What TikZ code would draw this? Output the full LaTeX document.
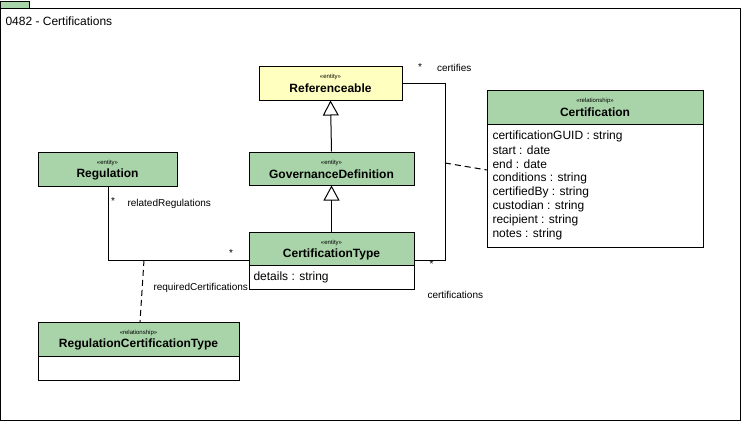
\documentclass[tikz,border=0pt]{standalone}
\usepackage{fontspec}
\setmainfont{Liberation Sans}
\usetikzlibrary{arrows.meta,fit}
\definecolor{umlgreen}{RGB}{169,212,169}
\definecolor{umlyellow}{RGB}{255,255,192}
\begin{document}
\begin{tikzpicture}[x=0.75pt,y=-0.75pt,line width=0.75pt,
  hdr/.style={draw=black,fill=umlgreen,inner sep=0pt},
  yhdr/.style={draw=black,fill=umlyellow,inner sep=0pt},
  body/.style={draw=black,fill=white,inner sep=0pt},
  stereo/.style={font=\fontsize{4.5}{5}\selectfont,inner sep=0pt},
  cname/.style={font=\bfseries\fontsize{9}{10}\selectfont,inner sep=0pt},
  attr/.style={font=\fontsize{9}{10}\selectfont,anchor=west,inner sep=0pt},
  lbl/.style={font=\fontsize{7.5}{8}\selectfont,anchor=west,inner sep=0pt},
  gen/.style={-{Triangle[open,length=11.25pt,width=12pt]}},
  assoc/.style={draw=black},
  dashline/.style={dash pattern=on 4.5pt off 3pt}]
\useasboundingbox (0,0) rectangle (741,421);
% frame
\node[draw=black,fill=umlgreen,inner sep=0pt,fit={(0,1) (29,8)}] (tab) {};
\node[draw=black,fill=white,inner sep=0pt,fit={(0,8) (740,420)}] (frame) {};
\node[attr] (title) at (5,21) {0482 - Certifications};

% Referenceable
\node[yhdr,fit={(259,66) (402,100)}] (ref) {};
\node[stereo] (refS) at (330.5,76.7) {«entity»};
\node[cname] (refN) at (330.5,88.7) {Referenceable};

% GovernanceDefinition
\node[hdr,fit={(249,152) (414,185)}] (gov) {};
\node[stereo] (govS) at (331.5,162.7) {«entity»};
\node[cname] (govN) at (331.5,174.2) {GovernanceDefinition};

% CertificationType
\node[body,fit={(249,265) (414,289)}] (ctB) {};
\node[hdr,fit={(249,232) (414,265)}] (ct) {};
\node[stereo] (ctS) at (331.5,242.7) {«entity»};
\node[cname] (ctN) at (331.5,254.2) {CertificationType};
\node[attr] (ctA) at (253,277.5) {details : string};

% Regulation
\node[hdr,fit={(38,152) (177,186)}] (reg) {};
\node[stereo] (regS) at (107.5,162.7) {«entity»};
\node[cname] (regN) at (107.5,174.5) {Regulation};

% RegulationCertificationType
\node[body,fit={(38,356) (239,380)}] (rctB) {};
\node[hdr,fit={(38,322) (239,356)}] (rct) {};
\node[stereo] (rctS) at (138.5,332.7) {«relationship»};
\node[cname] (rctN) at (138.5,344.5) {RegulationCertificationType};

% Certification
\node[body,fit={(487,124) (703,247)}] (certB) {};
\node[hdr,fit={(487,90) (703,124)}] (cert) {};
\node[stereo] (certS) at (595,100.7) {«relationship»};
\node[cname] (certN) at (595,112.7) {Certification};
\node[attr] (a1) at (492,136.7) {certificationGUID : string};
\node[attr] (a2) at (492,150.7) {start : date};
\node[attr] (a3) at (492,164.7) {end : date};
\node[attr] (a4) at (492,178.7) {conditions : string};
\node[attr] (a5) at (492,192.7) {certifiedBy : string};
\node[attr] (a6) at (492,206.7) {custodian : string};
\node[attr] (a7) at (492,220.7) {recipient : string};
\node[attr] (a8) at (492,234.7) {notes : string};

% generalizations
\draw[gen] (gov.north) -- (ref.south);
\draw[gen] (ct.north) -- (gov.south);

% certifies association
\coordinate (k1) at (445,83);
\coordinate (k2) at (445,260);
\coordinate (ctR) at (414,260);
\draw[assoc] (ref.east) -- (k1) -- (k2) -- (ctR);
\coordinate (kd) at (445,163);
\coordinate (certL) at (487,170);
\draw[dashline] (kd) -- (certL);
\node[lbl] (m1) at (417.5,67) {*};
\node[lbl] (l1) at (436.5,67.5) {certifies};
\node[lbl] (m2) at (429,264) {*};
\node[lbl] (l2) at (427,294.5) {certifications};

% regulation association
\coordinate (r1) at (108,260);
\coordinate (ctL) at (249,260);
\draw[assoc] (reg.south -| r1) -- (r1) -- (ctL);
\coordinate (rd) at (144,260);
\coordinate (rctT) at (140,322);
\draw[dashline] (rd) -- (rctT);
\node[lbl] (m3) at (110.5,201.5) {*};
\node[lbl] (l3) at (127,204) {relatedRegulations};
\node[lbl] (m4) at (228.5,253) {*};
\node[lbl] (l4) at (153,287.5) {requiredCertifications};
\end{tikzpicture}
\end{document}
